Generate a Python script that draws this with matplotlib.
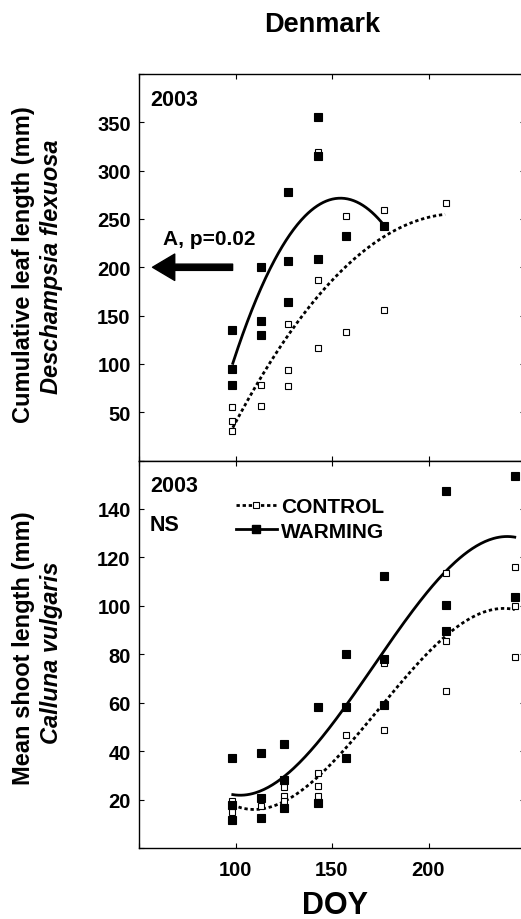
import numpy as np
import matplotlib
matplotlib.use("Agg")
import matplotlib.pyplot as plt
from matplotlib.lines import Line2D

plt.rcParams['font.family'] = ['Liberation Sans', 'DejaVu Sans']
plt.rcParams['font.weight'] = 'bold'

# Deschampsia flexuosa, cumulative leaf length (mm)
desch_ctrl_doy = [98, 98, 98, 113, 113, 127, 127, 127, 143, 143, 143, 157, 157, 177, 177, 209]
desch_ctrl_len = [55, 41, 31, 78, 56, 141, 94, 77, 319, 187, 116, 253, 133, 259, 156, 267]
desch_warm_doy = [98, 98, 98, 113, 113, 113, 127, 127, 127, 143, 143, 143, 157, 177]
desch_warm_len = [135, 95, 78, 200, 144, 130, 278, 206, 164, 355, 315, 209, 232, 243]

# Calluna vulgaris, mean shoot length (mm)
call_ctrl_doy = [98, 98, 98, 113, 113, 125, 125, 125, 143, 143, 143, 157, 177, 177,
                 209, 209, 209, 245, 245, 245]
call_ctrl_len = [19.6, 17.5, 15.0, 20.3, 17.5, 25.0, 21.6, 19.6, 30.9, 25.4, 21.6, 46.5,
                 76.2, 48.6, 113.4, 85.6, 64.7, 116, 100.1, 78.8]
call_warm_doy = [98, 98, 98, 113, 113, 113, 125, 125, 125, 143, 143, 157, 157, 157,
                 177, 177, 177, 209, 209, 209, 245, 245]
call_warm_len = [37.3, 17.8, 11.6, 39.2, 20.6, 12.3, 42.9, 27.9, 16.4, 58.1, 18.5, 80.1,
                 58.1, 37.1, 112.4, 77.9, 58.9, 147.5, 100.4, 89.5, 153.8, 103.5]

# regression curves, sampled along the fitted lines
desch_ctrl_fit_doy = [98.6, 113.3, 127.3, 142.8, 156.8, 177, 208.6]
desch_ctrl_fit_len = [33.8, 83.9, 132.3, 173.8, 197.9, 229, 256]
desch_warm_fit_doy = [98.6, 113.3, 127.3, 142.8, 155.2, 168.1, 177]
desch_warm_fit_len = [101.2, 177.2, 232.5, 263.5, 271.5, 261.9, 242.8]
call_ctrl_fit_doy = [98.6, 113, 125.2, 142.8, 156.8, 177, 194, 208.8, 225, 237, 244.7]
call_ctrl_fit_len = [17.8, 16.2, 19.6, 28.7, 40.3, 61, 76.9, 86.6, 95.5, 98.7, 99]
call_warm_fit_doy = [98.6, 105.5, 113.3, 125.2, 156.8, 177, 194, 208.8, 223.3, 238.8, 244.7]
call_warm_fit_len = [22.6, 21.6, 23.5, 29.0, 58.9, 81.7, 100.4, 113.5, 123.8, 128.9, 128.3]

fig = plt.figure(figsize=(5.21, 9.2), dpi=100)
W = 386 / 521
ax1 = fig.add_axes([139 / 521, 1 - 461.5 / 920, W, 386.5 / 920])
ax2 = fig.add_axes([139 / 521, 1 - 849 / 920, W, 387.5 / 920])


def smooth(doy, vals, deg):
    c = np.polyfit(doy, vals, deg)
    xs = np.linspace(min(doy), max(doy), 200)
    return xs, np.polyval(c, xs)


def draw(ax, cd, cv, wd, wv, cfd, cfv, wfd, wfv, deg):
    xs, ys = smooth(cfd, cfv, deg)
    ax.plot(xs, ys, color='black', lw=2.0, ls=(0, (1.2, 1.0)), zorder=2)
    xs, ys = smooth(wfd, wfv, deg)
    ax.plot(xs, ys, color='black', lw=2.0, zorder=2)
    ax.plot(cd, cv, 's', ms=5.0, mfc='white', mec='black', mew=0.8, zorder=3)
    ax.plot(wd, wv, 's', ms=5.4, mfc='black', mec='black', mew=0.8, zorder=4)


draw(ax1, desch_ctrl_doy, desch_ctrl_len, desch_warm_doy, desch_warm_len,
     desch_ctrl_fit_doy, desch_ctrl_fit_len, desch_warm_fit_doy, desch_warm_fit_len, 2)
draw(ax2, call_ctrl_doy, call_ctrl_len, call_warm_doy, call_warm_len,
     call_ctrl_fit_doy, call_ctrl_fit_len, call_warm_fit_doy, call_warm_fit_len, 3)

for ax in (ax1, ax2):
    ax.set_xlim(50, 250)
    ax.set_xticks([50, 100, 150, 200, 250])
    ax.tick_params(direction='in', top=True, right=True, length=3.5, width=0.8,
                   labelsize=14.5, pad=6)
    for s in ax.spines.values():
        s.set_linewidth(1.0)

ax1.set_ylim(0, 400)
ax1.set_yticks(range(0, 401, 50))
ax1.set_yticklabels([''] + [str(v) for v in range(50, 351, 50)] + [''])
ax1.tick_params(axis='x', labelbottom=False)

ax2.set_ylim(0, 160)
ax2.set_yticks(range(0, 161, 20))
ax2.set_yticklabels([''] + [str(v) for v in range(20, 141, 20)] + [''])
ax2.set_xticklabels(['', '100', '150', '200', ''])
ax2.tick_params(axis='x', pad=9)

ax1.text(0.028, 0.962, '2003', transform=ax1.transAxes, fontsize=15.5, va='top', ha='left')
ax2.text(0.028, 0.962, '2003', transform=ax2.transAxes, fontsize=15.5, va='top', ha='left')
ax2.text(0.028, 0.862, 'NS', transform=ax2.transAxes, fontsize=15.5, va='top', ha='left')
ax1.text(0.062, 0.598, 'A, p=0.02', transform=ax1.transAxes, fontsize=15, va='top', ha='left')
ax1.annotate('', xy=(57, 200), xytext=(98.5, 200),
             arrowprops=dict(arrowstyle='simple,head_length=1.6,head_width=1.9,tail_width=0.45',
                             mutation_scale=10, color='black', shrinkA=0, shrinkB=0))

handles = [Line2D([], [], color='black', lw=2.0, ls=(0, (1.2, 1.0)), marker='s', ms=5.0,
                  mfc='white', mec='black', mew=0.8),
           Line2D([], [], color='black', lw=2.0, marker='s', ms=5.4, mfc='black', mec='black')]
ax2.legend(handles, ['CONTROL', 'WARMING'], loc='upper left', bbox_to_anchor=(0.25, 0.905),
           frameon=False, fontsize=15, handlelength=2.0, handletextpad=0.2,
           labelspacing=0.25, borderpad=0, borderaxespad=0, numpoints=1)

fig.text(322 / 521, 1 - 25 / 920, 'Denmark', fontsize=19.5, ha='center', va='center')
fig.text(335 / 521, 1 - 906 / 920, 'DOY', fontsize=22, ha='center', va='center')

fig.text(24 / 521, 1 - 265 / 920, 'Cumulative leaf length (mm)', rotation=90,
         fontsize=17, ha='center', va='center')
fig.text(52 / 521, 1 - 267 / 920, 'Deschampsia flexuosa', rotation=90, style='italic',
         fontsize=17, ha='center', va='center')
fig.text(24 / 521, 1 - 648 / 920, 'Mean shoot length (mm)', rotation=90,
         fontsize=17, ha='center', va='center')
fig.text(52 / 521, 1 - 653 / 920, 'Calluna vulgaris', rotation=90, style='italic',
         fontsize=17, ha='center', va='center')

fig.savefig('out.png', dpi=100)
